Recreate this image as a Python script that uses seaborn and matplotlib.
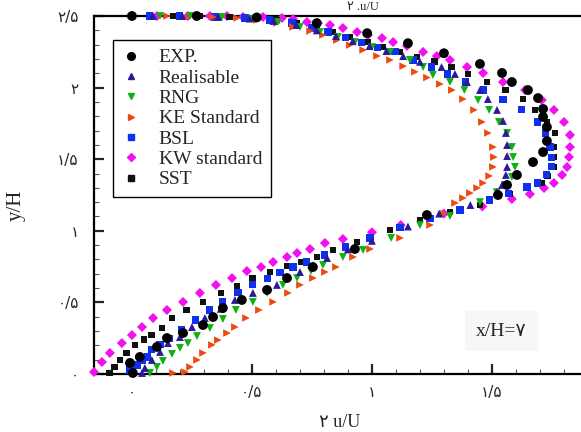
import matplotlib
matplotlib.use("Agg")
import matplotlib.pyplot as plt
import seaborn as sns
import pandas as pd
from matplotlib.ticker import MultipleLocator

sns.set_style("white")
plt.rcParams['font.family'] = ['Liberation Serif', 'DejaVu Sans']

# ---------------- data (u/U , y/H) ----------------
exp_u = [0.0, 0.27, 0.52, 0.77, 0.98, 1.15, 1.30, 1.45, 1.542, 1.583, 1.65, 1.692, 1.713, 1.713,
         1.729, 1.729, 1.713, 1.671, 1.604, 1.563, 1.525, 1.229, 0.929, 0.754, 0.646, 0.563,
         0.458, 0.379, 0.338, 0.296, 0.213, 0.146, 0.104, 0.033, -0.008, 0.004]
exp_y = [2.5, 2.5, 2.49, 2.45, 2.38, 2.31, 2.24, 2.165, 2.102, 2.039, 1.983, 1.927, 1.851, 1.795,
         1.725, 1.627, 1.55, 1.48, 1.39, 1.32, 1.25, 1.11, 0.873, 0.747, 0.670, 0.587,
         0.517, 0.461, 0.398, 0.342, 0.286, 0.251, 0.189, 0.119, 0.077, 0.007]

real_u = [0.088, 0.21, 0.36, 0.49, 0.59, 0.685, 0.77, 0.85, 0.92, 0.99, 1.06, 1.13, 1.20, 1.29,
          1.346, 1.396, 1.45, 1.483, 1.521, 1.546, 1.558, 1.563, 1.563, 1.563, 1.558, 1.542, 1.521,
          1.41, 1.28, 1.15, 1.0, 0.9, 0.813, 0.755, 0.7, 0.604, 0.504, 0.429, 0.37, 0.304, 0.25,
          0.2, 0.15, 0.117, 0.083, 0.054, 0.042]
real_y = [2.5, 2.5, 2.493, 2.482, 2.465, 2.437, 2.40, 2.36, 2.325, 2.29, 2.255, 2.22, 2.18, 2.144,
          2.095, 2.039, 1.983, 1.920, 1.844, 1.767, 1.683, 1.599, 1.522, 1.446, 1.390, 1.320, 1.271,
          1.18, 1.12, 1.03, 0.93, 0.87, 0.810, 0.76, 0.712, 0.622, 0.566, 0.517, 0.455, 0.391, 0.328,
          0.258, 0.216, 0.154, 0.098, 0.042, 0.007]

rng_u = [0.117, 0.242, 0.375, 0.5, 0.608, 0.7, 0.783, 0.858, 0.929, 1.0, 1.075, 1.158, 1.213, 1.254,
         1.325, 1.385, 1.442, 1.488, 1.529, 1.563, 1.583, 1.588, 1.596, 1.583, 1.554, 1.52, 1.45,
         1.325, 1.2, 1.08, 0.963, 0.879, 0.796, 0.746, 0.688, 0.629, 0.563, 0.504, 0.433, 0.379,
         0.325, 0.271, 0.233, 0.2, 0.167, 0.129, 0.104, 0.075]
rng_y = [2.5, 2.5, 2.493, 2.479, 2.458, 2.423, 2.388, 2.353, 2.318, 2.283, 2.249, 2.193, 2.144, 2.088,
         2.039, 1.983, 1.913, 1.844, 1.760, 1.683, 1.585, 1.515, 1.446, 1.376, 1.320, 1.27, 1.20,
         1.103, 1.04, 0.95, 0.866, 0.817, 0.761, 0.719, 0.670, 0.622, 0.566, 0.503, 0.447, 0.384,
         0.321, 0.265, 0.216, 0.182, 0.140, 0.091, 0.049, 0.007]

ke_u = [0.146, 0.242, 0.338, 0.438, 0.521, 0.604, 0.671, 0.742, 0.796, 0.854, 0.908, 0.963, 1.021,
        1.075, 1.13, 1.179, 1.229, 1.283, 1.333, 1.379, 1.425, 1.458, 1.483, 1.504, 1.508, 1.504,
        1.488, 1.463, 1.438, 1.408, 1.379, 1.346, 1.30, 1.242, 1.117, 0.992, 0.921, 0.85, 0.804,
        0.754, 0.7, 0.65, 0.588, 0.529, 0.475, 0.429, 0.396, 0.358, 0.333, 0.296, 0.271, 0.242,
        0.221, 0.171]
ke_y = [2.5, 2.5, 2.493, 2.486, 2.472, 2.451, 2.423, 2.395, 2.367, 2.332, 2.297, 2.263, 2.221,
        2.193, 2.15, 2.11, 2.07, 2.025, 1.983, 1.920, 1.844, 1.760, 1.683, 1.585, 1.515, 1.446,
        1.383, 1.334, 1.299, 1.264, 1.229, 1.194, 1.12, 1.04, 0.95, 0.873, 0.817, 0.747, 0.712,
        0.670, 0.622, 0.566, 0.503, 0.447, 0.391, 0.328, 0.286, 0.237, 0.203, 0.147, 0.098, 0.049,
        0.014, 0.007]

bsl_u = [0.075, 0.2, 0.346, 0.471, 0.575, 0.667, 0.75, 0.817, 0.888, 0.958, 1.025, 1.096, 1.171,
         1.25, 1.313, 1.388, 1.463, 1.546, 1.625, 1.688, 1.725, 1.742, 1.75, 1.75, 1.729, 1.688,
         1.646, 1.57, 1.49, 1.367, 1.242, 1.117, 0.992, 0.888, 0.804, 0.729, 0.671, 0.617, 0.563,
         0.504, 0.442, 0.379, 0.325, 0.263, 0.208, 0.158, 0.117, 0.083, 0.063, 0.042, 0.021, -0.008]
bsl_y = [2.5, 2.5, 2.493, 2.486, 2.472, 2.451, 2.416, 2.388, 2.353, 2.318, 2.283, 2.249, 2.193,
         2.144, 2.095, 2.039, 1.983, 1.920, 1.844, 1.760, 1.683, 1.585, 1.515, 1.446, 1.390, 1.334,
         1.306, 1.26, 1.215, 1.145, 1.089, 1.02, 0.950, 0.887, 0.831, 0.782, 0.747, 0.712, 0.670,
         0.622, 0.566, 0.503, 0.447, 0.377, 0.307, 0.251, 0.203, 0.168, 0.119, 0.098, 0.063, 0.028]

kw_u = [0.104, 0.233, 0.325, 0.396, 0.463, 0.546, 0.625, 0.671, 0.729, 0.775, 0.825, 0.879, 0.938,
        0.983, 1.042, 1.088, 1.146, 1.213, 1.27, 1.325, 1.396, 1.463, 1.546, 1.638, 1.708, 1.758,
        1.80, 1.825, 1.825, 1.821, 1.813, 1.792, 1.758, 1.717, 1.658, 1.583, 1.46, 1.3, 1.12, 1.0,
        0.879, 0.804, 0.742, 0.688, 0.646, 0.588, 0.538, 0.479, 0.417, 0.35, 0.283, 0.213, 0.146,
        0.088, 0.042, 0.0, -0.042, -0.092, -0.125, -0.158]
kw_y = [2.5, 2.5, 2.5, 2.5, 2.493, 2.493, 2.486, 2.479, 2.458, 2.451, 2.437, 2.416, 2.388,
        2.367, 2.346, 2.318, 2.291, 2.249, 2.22, 2.193, 2.144, 2.102, 2.039, 1.983, 1.913, 1.844,
        1.760, 1.669, 1.585, 1.515, 1.446, 1.390, 1.334, 1.299, 1.257, 1.222, 1.17, 1.12, 1.04, 0.99,
        0.943, 0.915, 0.873, 0.845, 0.817, 0.782, 0.747, 0.719, 0.670, 0.622, 0.566, 0.503, 0.447,
        0.391, 0.328, 0.272, 0.216, 0.147, 0.084, 0.014]

sst_u = [0.171, 0.283, 0.408, 0.504, 0.604, 0.688, 0.771, 0.838, 0.908, 0.983, 1.046, 1.117, 1.188,
         1.26, 1.333, 1.4, 1.479, 1.558, 1.629, 1.679, 1.729, 1.763, 1.758, 1.758, 1.758, 1.733,
         1.708, 1.646, 1.575, 1.45, 1.325, 1.2, 1.075, 0.938, 0.838, 0.771, 0.708, 0.646, 0.575,
         0.504, 0.438, 0.371, 0.296, 0.229, 0.167, 0.125, 0.083, 0.05, 0.013, -0.021, -0.05,
         -0.071, -0.092]
sst_y = [2.5, 2.5, 2.493, 2.486, 2.472, 2.451, 2.416, 2.388, 2.353, 2.318, 2.283, 2.249, 2.214,
         2.18, 2.144, 2.095, 2.039, 1.983, 1.920, 1.844, 1.760, 1.683, 1.585, 1.515, 1.446, 1.383,
         1.334, 1.299, 1.257, 1.18, 1.131, 1.075, 1.006, 0.922, 0.866, 0.817, 0.782, 0.754, 0.712,
         0.670, 0.615, 0.566, 0.503, 0.447, 0.391, 0.321, 0.272, 0.24, 0.203, 0.147, 0.098,
         0.049, 0.007]

labels = ['EXP.', 'Realisable', 'RNG', 'KE Standard', 'BSL', 'KW standard', 'SST']
x_ticks = [0, 0.5, 1, 1.5]
x_ticklabels = ['۰', '۰/۵', '۱', '۱/۵']
y_ticks = [0, 0.5, 1, 1.5, 2, 2.5]
y_ticklabels = ['۰', '۰/۵', '۱', '۱/۵', '۲', '۲/۵']

series = {
    'EXP.': (exp_u, exp_y),
    'Realisable': (real_u, real_y),
    'RNG': (rng_u, rng_y),
    'KE Standard': (ke_u, ke_y),
    'BSL': (bsl_u, bsl_y),
    'KW standard': (kw_u, kw_y),
    'SST': (sst_u, sst_y),
}
style = {
    'EXP.': dict(marker='o', color='#000000', s=50),
    'Realisable': dict(marker='^', color='#2a1a9a', s=32),
    'RNG': dict(marker='v', color='#10b010', s=32),
    'KE Standard': dict(marker='>', color='#ee4a10', s=30),
    'BSL': dict(marker='s', color='#1030f0', s=26),
    'KW standard': dict(marker='D', color='#f010f0', s=26),
    'SST': dict(marker='s', color='#111111', s=24),
}
draw_order = ['KW standard', 'SST', 'BSL', 'KE Standard', 'RNG', 'Realisable', 'EXP.']

# ---------------- figure ----------------
fig = plt.figure(figsize=(5.81, 4.32), dpi=100)
ax = fig.add_axes([94 / 581, 58 / 432, 487 / 581, 358 / 432])

handles = {}
for name in draw_order:
    u, y = series[name]
    df = pd.DataFrame({'u': u, 'y': y})
    st = style[name]
    sns.scatterplot(data=df, x='u', y='y', ax=ax, marker=st['marker'], color=st['color'],
                    s=st['s'], edgecolor='none', linewidth=0, clip_on=False, zorder=3,
                    legend=False)
    handles[name] = plt.Line2D([], [], linestyle='none', marker=st['marker'],
                               color=st['color'], markersize=5.5 if name == 'EXP.' else 4.5)

ax.set_xlim(-0.158, 1.871)
ax.set_ylim(0, 2.5)
ax.set_xlabel('')
ax.set_ylabel('')

ax.set_xticks(x_ticks)
ax.set_xticklabels(x_ticklabels, family=['DejaVu Sans'], fontsize=11)
ax.set_yticks(y_ticks)
ax.set_yticklabels(y_ticklabels, family=['DejaVu Sans'], fontsize=11)
ax.xaxis.set_minor_locator(MultipleLocator(0.1))
ax.yaxis.set_minor_locator(MultipleLocator(0.1))
ax.tick_params(which='major', direction='in', length=7, width=1.6, pad=8,
               bottom=True, left=True, top=False, right=False)
ax.tick_params(which='minor', direction='in', length=3.5, width=0.8, color='#555555',
               bottom=True, left=True, top=False, right=False)
ax.tick_params(axis='y', which='major', pad=11)

for side in ['left', 'bottom', 'top']:
    ax.spines[side].set_linewidth(1.6)
    ax.spines[side].set_color('black')
ax.spines['right'].set_visible(False)

leg = ax.legend([handles[n] for n in labels], labels, loc='upper left',
                bbox_to_anchor=(0.039, 0.933), frameon=True, fancybox=False,
                edgecolor='black', framealpha=1, borderpad=0.45, labelspacing=0.14,
                handlelength=1.0, handletextpad=0.9, borderaxespad=0,
                prop={'family': 'Liberation Serif', 'size': 14})
leg.get_frame().set_linewidth(1.0)

ax.text(1.54, 0.3, 'x/H=۷', fontsize=14, ha='center', va='center',
        family=['Liberation Serif', 'DejaVu Sans'],
        bbox=dict(facecolor='#f7f7f7', edgecolor='none', pad=8))

fig.text(16 / 581, 1 - 205 / 432, 'y/H', rotation=90, fontsize=15, ha='center', va='center',
         family=['Liberation Serif', 'DejaVu Sans'])
fig.text(340 / 581, 1 / 432, '۲ u/U', fontsize=13, ha='center', va='bottom',
         family=['Liberation Serif', 'DejaVu Sans'])
fig.text(363 / 581, 1 - 1 / 432, '۲ .u/U', fontsize=9, ha='center', va='top',
         family=['Liberation Serif', 'DejaVu Sans'])

fig.savefig('out.png', dpi=100)
